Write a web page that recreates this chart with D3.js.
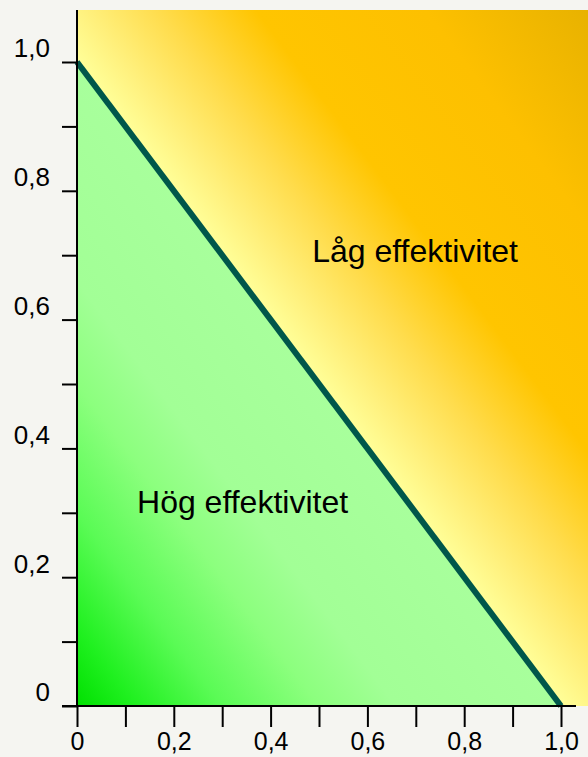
<!DOCTYPE html>
<html>
<head>
<meta charset="utf-8">
<script src="https://cdn.jsdelivr.net/npm/d3@7"></script>
<style>
  html, body { margin: 0; padding: 0; background: #f5f5f1; }
  svg { display: block; font-family: "Liberation Sans", Arial, sans-serif; }
</style>
</head>
<body>
<svg id="chart" width="588" height="757"></svg>
<script>
// tick values (0..1 by 0.1), labelled ones every 0.2
var ticks = [0, 0.1, 0.2, 0.3, 0.4, 0.5, 0.6, 0.7, 0.8, 0.9, 1.0];
var tickLabels = ["0", "", "0,2", "", "0,4", "", "0,6", "", "0,8", "", "1,0"];

// boundary line x + y = 1
var boundary = [[0, 1], [1, 0]];

// region labels
var regionNames = ["Låg effektivitet", "Hög effektivitet"];
var regionX = [0.486, 0.124];
var regionY = [0.69, 0.30];

// colour stops along x + y
var greenStops = [[0, "#00e000"], [0.12, "#1ff01f"], [0.3, "#5afb55"], [0.5, "#8cff7e"], [0.66, "#a2ff96"], [1, "#a8ff9c"]];
var yellowStops = [[1.0, "#ffff99"], [1.1, "#fff07c"], [1.25, "#ffdc4c"], [1.45, "#ffc500"], [1.8, "#fdc000"], [2.14, "#e8b200"]];

var svg = d3.select("#chart");
var x = d3.scaleLinear().domain([0, 1]).range([77, 561]);
var y = d3.scaleLinear().domain([0, 1]).range([706, 62]);
var xMax = x.invert(588), yMax = y.invert(10);

// gradient direction: perpendicular to the line in pixel space
var W = x(1) - x(0), H = y(0) - y(1), L = Math.hypot(W, H);
var d = W * H / L, ux = H / L, uy = -W / L;
function at(s) { return [x(0) + s * d * ux, y(0) + s * d * uy]; }

var defs = svg.append("defs");
function grad(id, stops) {
  var s0 = stops[0][0], s1 = stops[stops.length - 1][0];
  var p0 = at(s0), p1 = at(s1);
  var g = defs.append("linearGradient").attr("id", id)
    .attr("gradientUnits", "userSpaceOnUse")
    .attr("x1", p0[0]).attr("y1", p0[1]).attr("x2", p1[0]).attr("y2", p1[1]);
  g.selectAll("stop").data(stops).enter().append("stop")
    .attr("offset", function(s){ return (s[0] - s0) / (s1 - s0); })
    .attr("stop-color", function(s){ return s[1]; });
}
grad("gYellow", yellowStops);
grad("gGreen", greenStops);

svg.append("rect")
  .attr("x", x(0)).attr("y", y(yMax))
  .attr("width", x(xMax) - x(0)).attr("height", y(0) - y(yMax))
  .attr("fill", "url(#gYellow)");

svg.append("path")
  .datum([[0, 0]].concat(boundary))
  .attr("d", d3.line().x(function(p){ return x(p[0]); }).y(function(p){ return y(p[1]); }).curve(d3.curveLinearClosed))
  .attr("fill", "url(#gGreen)");

svg.append("path")
  .datum(boundary)
  .attr("d", d3.line().x(function(p){ return x(p[0]); }).y(function(p){ return y(p[1]); }))
  .attr("fill", "none").attr("stroke", "#00574a").attr("stroke-width", 6);

svg.selectAll("text.region").data(regionNames).enter().append("text")
  .attr("class", "region")
  .attr("x", function(t, i){ return x(regionX[i]); })
  .attr("y", function(t, i){ return y(regionY[i]); })
  .attr("font-size", 32).attr("fill", "#000")
  .text(function(t){ return t; });

// axes
var xAxis = d3.axisBottom(x).tickValues(ticks).tickSize(21).tickSizeOuter(0)
  .tickFormat(function(v, i){ return tickLabels[i]; });
var gx = svg.append("g").attr("transform", "translate(0," + y(0) + ")").call(xAxis);
gx.select(".domain").remove();
gx.selectAll("line").attr("stroke", "#000").attr("stroke-width", 2);
gx.selectAll("text").attr("y", 44).attr("dy", 0).attr("font-size", 25)
  .attr("font-family", "Liberation Sans, Arial, sans-serif").attr("fill", "#000");

var yAxis = d3.axisLeft(y).tickValues(ticks).tickSize(15).tickSizeOuter(0)
  .tickFormat(function(v, i){ return tickLabels[i]; });
var gy = svg.append("g").attr("transform", "translate(" + x(0) + ",0)").call(yAxis);
gy.select(".domain").remove();
gy.selectAll("line").attr("stroke", "#000").attr("stroke-width", 2);
gy.selectAll("text").attr("x", -27).attr("dy", "-0.2em").attr("font-size", 26)
  .attr("font-family", "Liberation Sans, Arial, sans-serif").attr("fill", "#000");

// axis lines
svg.append("line").attr("x1", x(0) - 15).attr("x2", 576).attr("y1", y(0)).attr("y2", y(0))
  .attr("stroke", "#000").attr("stroke-width", 2);
svg.append("line").attr("x1", x(0)).attr("x2", x(0)).attr("y1", y(yMax)).attr("y2", y(0))
  .attr("stroke", "#000").attr("stroke-width", 2);
</script>
</body>
</html>
